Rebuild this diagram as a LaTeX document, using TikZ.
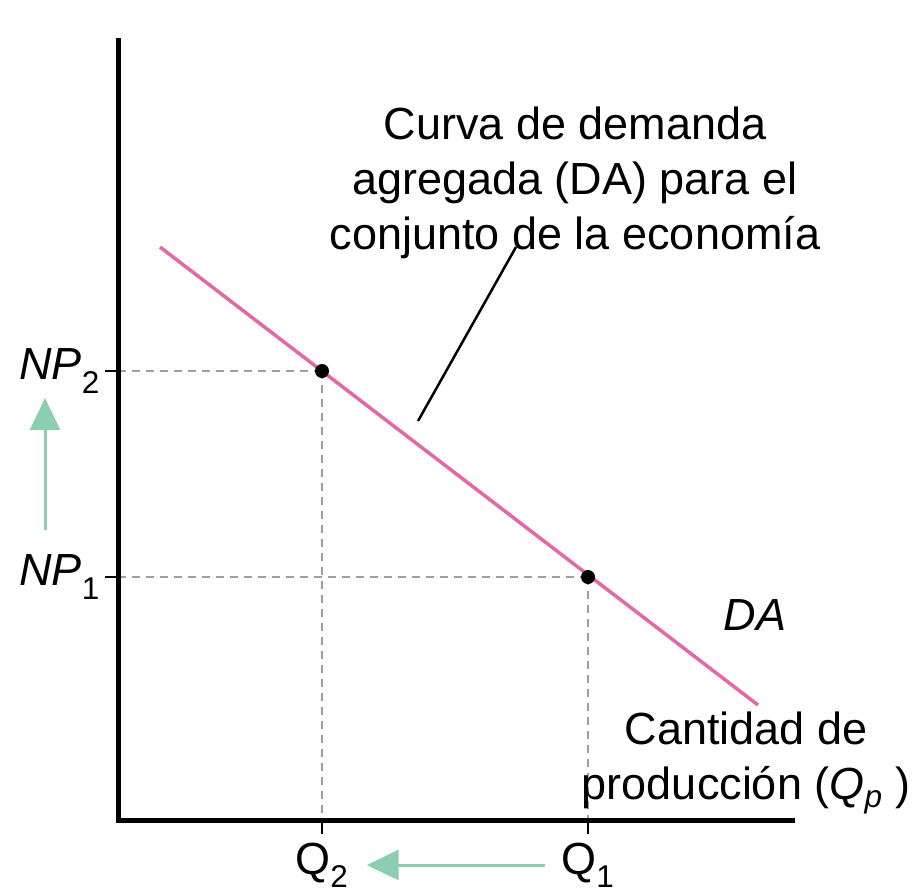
\documentclass[tikz,border=0pt]{standalone}
\usepackage{fontspec}
\setmainfont{Liberation Sans}
\usetikzlibrary{arrows.meta}
\definecolor{dapink}{RGB}{228,104,164}
\definecolor{mint}{RGB}{140,206,176}
\begin{document}
\begin{tikzpicture}[x=1pt,y=-1pt,
  guide/.style={gray!75,line width=1.8pt,dash pattern=on 8pt off 6pt},
  shift arrow/.style={mint,line width=3pt,-{Triangle[width=30pt,length=32pt]}},
  lbl/.style={font=\fontsize{45}{55}\selectfont,inner sep=0pt}]
\useasboundingbox (0,0) rectangle (913,895);
% axes
\coordinate (o) at (118,820);
\coordinate (ytop) at (118,38);
\coordinate (xend) at (795,820);
% demand curve and the two points
\coordinate (dastart) at (160,247);
\coordinate (daend) at (758,705);
\coordinate (e2) at (322,371);
\coordinate (e1) at (588,577);
\draw[guide] (e2) -- (e2 -| o) (e2) -- (e2 |- o);
\draw[guide] (e1) -- (e1 -| o) (e1) -- (e1 |- o);
\draw[line width=5pt] (ytop) -- (o) -- (xend);
\foreach \p/\n in {e2/2, e1/1}
{
  \draw[line width=2.5pt] (\p -| o) -- ++(-13,0);
  \node[lbl,anchor=east] (np\n) at ([xshift=-18pt]\p -| o) {\textit{NP}\textsubscript{\n}};
  \draw[line width=2.5pt] (\p |- o) -- ++(0,14);
  \node[lbl] (q\n) at ([yshift=-45pt]\p |- o) {Q\textsubscript{\n}};
}
\draw[dapink,line width=3.5pt] (dastart) -- (daend);
\foreach \p in {e2, e1}
{
  \fill (\p) circle (7pt);
}
% labels
\node[lbl,align=center] (title) at (575,183) {Curva de demanda\\agregada (DA) para el\\conjunto de la econom\'ia};
\coordinate (leadtop) at (516,247);
\coordinate (leadbot) at (418,421);
\draw[line width=2.5pt] (leadbot) -- (leadtop);
\node[lbl] (da) at (755,615) {\textit{DA}};
\node[lbl,align=center] (qp) at (746,763) {Cantidad de\\producci\'on (\textit{Q}\textsubscript{\textit{p}} )};
% shifts
\coordinate (up0) at (45,530);
\coordinate (up1) at (45,398);
\draw[shift arrow] (up0) -- (up1);
\draw[shift arrow] ([xshift=-16pt]q1.west) -- ([xshift=18pt]q2.east);
\end{tikzpicture}
\end{document}
